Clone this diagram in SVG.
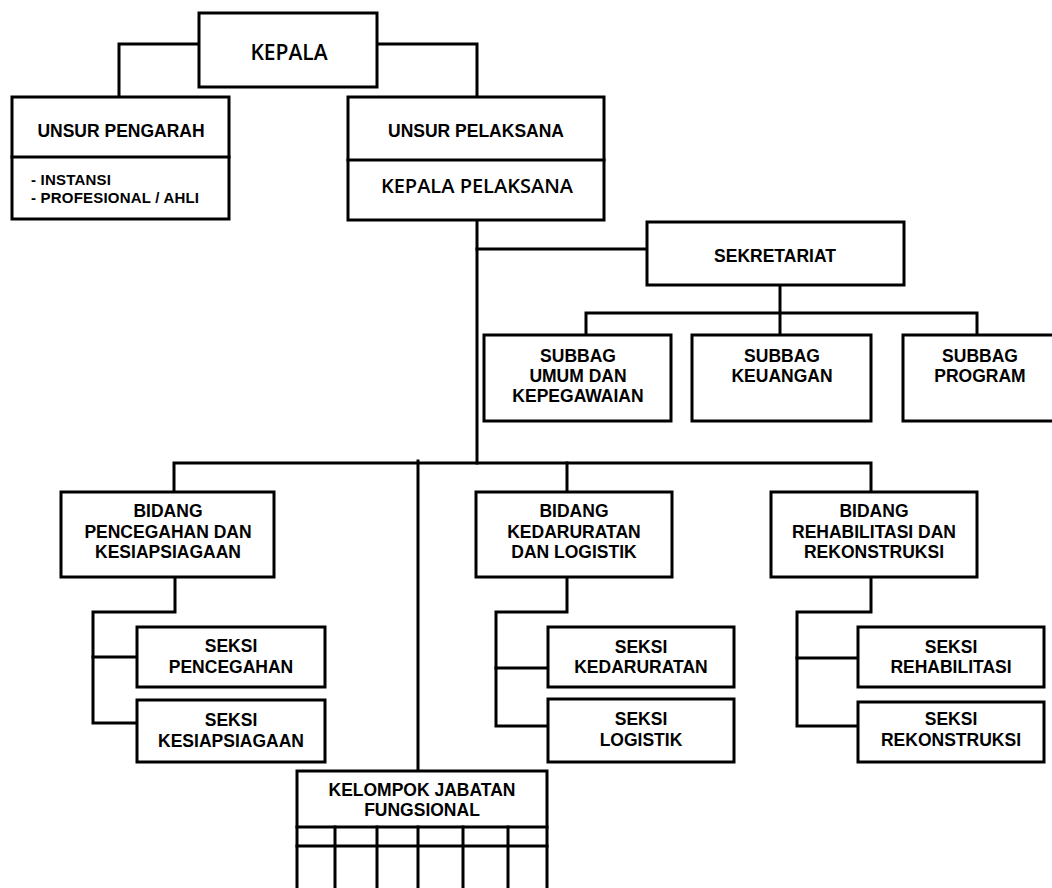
<svg xmlns="http://www.w3.org/2000/svg" width="1052" height="888" viewBox="0 0 1052 888">
<style>
  .box { fill: #fff; stroke: #000; stroke-width: 3; }
  .ln { fill: none; stroke: #000; stroke-width: 3; stroke-linejoin: miter; stroke-linecap: square; }
  .t { font-family: "Liberation Sans", Arial, sans-serif; font-weight: bold; font-size: 17.5px; fill: #000; text-anchor: middle; }
  .h { font-family: "Open Sans", "Noto Sans", sans-serif; font-weight: 600; fill: #000; text-anchor: middle; }
  .s { font-family: "Liberation Sans", Arial, sans-serif; font-weight: bold; font-size: 15px; letter-spacing: 0.2px; fill: #000; }
</style>
<rect width="1052" height="888" fill="#fff"/>
<g id="connectors">
  <path class="ln" d="M199,44 H119 V97"/>
  <path class="ln" d="M377,44 H477 V97"/>
  <path class="ln" d="M477,220 V463"/>
  <path class="ln" d="M477,249 H647"/>
  <path class="ln" d="M780,285 V335"/>
  <path class="ln" d="M586,335 V313 H977 V335"/>
  <path class="ln" d="M174,492 V463 H871 V492"/>
  <path class="ln" d="M567,463 V492"/>
  <path class="ln" d="M418,461 V771"/>
  <path class="ln" d="M175,577 V612 H93 V723 H137"/>
  <path class="ln" d="M93,657 H137"/>
  <path class="ln" d="M567,577 V612 H496 V726 H548"/>
  <path class="ln" d="M496,668 H548"/>
  <path class="ln" d="M871,577 V612 H797 V726 H858"/>
  <path class="ln" d="M797,658 H858"/>
</g>
<g id="kepala">
  <rect class="box" x="199" y="13" width="178" height="74"/>
  <text class="h" x="289" y="60" font-size="21">KEPALA</text>
</g>
<g id="unsur-pengarah">
  <rect class="box" x="12" y="97" width="217" height="122"/>
  <line class="ln" x1="12" y1="157" x2="229" y2="157"/>
  <text class="t" x="121" y="137">UNSUR PENGARAH</text>
  <text class="s" x="31" y="185">- INSTANSI</text>
  <text class="s" x="31" y="203">- PROFESIONAL / AHLI</text>
</g>
<g id="unsur-pelaksana">
  <rect class="box" x="348" y="97" width="256" height="123"/>
  <line class="ln" x1="348" y1="160" x2="604" y2="160"/>
  <text class="t" x="476" y="137">UNSUR PELAKSANA</text>
  <text class="h" x="477" y="193" font-size="20">KEPALA PELAKSANA</text>
</g>
<g id="sekretariat">
  <rect class="box" x="647" y="222" width="257" height="63"/>
  <text class="t" x="775" y="262">SEKRETARIAT</text>
</g>
<g id="subbag-umum">
  <rect class="box" x="484" y="335" width="187" height="86"/>
  <text class="t" x="578" y="362">SUBBAG</text>
  <text class="t" x="578" y="382">UMUM DAN</text>
  <text class="t" x="578" y="402">KEPEGAWAIAN</text>
</g>
<g id="subbag-keuangan">
  <rect class="box" x="692" y="335" width="179" height="86"/>
  <text class="t" x="782" y="362">SUBBAG</text>
  <text class="t" x="782" y="382">KEUANGAN</text>
</g>
<g id="subbag-program">
  <rect class="box" x="903" y="335" width="155" height="86"/>
  <text class="t" x="980" y="362">SUBBAG</text>
  <text class="t" x="980" y="382">PROGRAM</text>
</g>
<g id="bidang-pencegahan">
  <rect class="box" x="61" y="492" width="213" height="85"/>
  <text class="t" x="168" y="517">BIDANG</text>
  <text class="t" x="168" y="538">PENCEGAHAN DAN</text>
  <text class="t" x="168" y="558">KESIAPSIAGAAN</text>
</g>
<g id="bidang-kedaruratan">
  <rect class="box" x="476" y="492" width="196" height="85"/>
  <text class="t" x="574" y="517">BIDANG</text>
  <text class="t" x="574" y="538">KEDARURATAN</text>
  <text class="t" x="574" y="558">DAN LOGISTIK</text>
</g>
<g id="bidang-rehabilitasi">
  <rect class="box" x="771" y="492" width="206" height="85"/>
  <text class="t" x="874" y="517">BIDANG</text>
  <text class="t" x="874" y="538">REHABILITASI DAN</text>
  <text class="t" x="874" y="558">REKONSTRUKSI</text>
</g>
<g id="seksi-pencegahan">
  <rect class="box" x="137" y="627" width="188" height="60"/>
  <text class="t" x="231" y="652">SEKSI</text>
  <text class="t" x="231" y="673">PENCEGAHAN</text>
</g>
<g id="seksi-kesiapsiagaan">
  <rect class="box" x="137" y="700" width="188" height="62"/>
  <text class="t" x="231" y="726">SEKSI</text>
  <text class="t" x="231" y="747">KESIAPSIAGAAN</text>
</g>
<g id="seksi-kedaruratan">
  <rect class="box" x="548" y="627" width="186" height="60"/>
  <text class="t" x="641" y="653">SEKSI</text>
  <text class="t" x="641" y="673">KEDARURATAN</text>
</g>
<g id="seksi-logistik">
  <rect class="box" x="548" y="699" width="186" height="63"/>
  <text class="t" x="641" y="725">SEKSI</text>
  <text class="t" x="641" y="746">LOGISTIK</text>
</g>
<g id="seksi-rehabilitasi">
  <rect class="box" x="858" y="627" width="186" height="60"/>
  <text class="t" x="951" y="653">SEKSI</text>
  <text class="t" x="951" y="673">REHABILITASI</text>
</g>
<g id="seksi-rekonstruksi">
  <rect class="box" x="858" y="702" width="186" height="60"/>
  <text class="t" x="951" y="725">SEKSI</text>
  <text class="t" x="951" y="746">REKONSTRUKSI</text>
</g>
<g id="kelompok-jabatan-fungsional">
  <path class="ln" d="M297,892 V771 H547 V892" style="fill:#fff"/>
  <line class="ln" x1="297" y1="827" x2="547" y2="827"/>
  <line class="ln" x1="297" y1="846" x2="547" y2="846"/>
  <path class="ln" d="M335,827 V892 M377,827 V892 M418,827 V892 M463,827 V892 M508,827 V892"/>
  <text class="t" x="422" y="796">KELOMPOK JABATAN</text>
  <text class="t" x="422" y="816">FUNGSIONAL</text>
</g>
</svg>
